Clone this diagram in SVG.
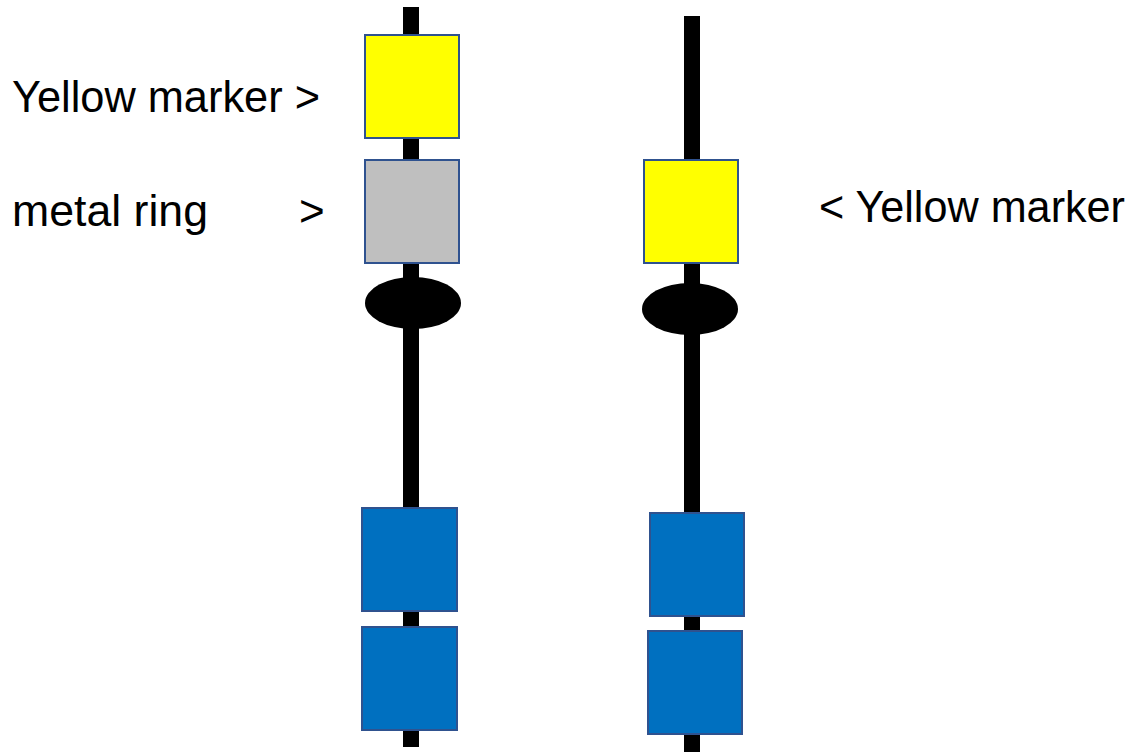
<svg xmlns="http://www.w3.org/2000/svg" width="1135" height="752" viewBox="0 0 1135 752">
<style>
.pole{stroke:#000;stroke-width:16;fill:none}
.box{stroke:#2F528F;stroke-width:2}
.y{fill:#FFFF00}
.g{fill:#BFBFBF}
.b{fill:#0070C0}
.knot{fill:#000}
text{font-family:"Liberation Sans",Arial,sans-serif;font-size:44px;fill:#000}
</style>
<rect width="1135" height="752" fill="#fff"/>
<g id="connectors">
<line class="pole" x1="411" y1="7" x2="411" y2="747"/>
<line class="pole" x1="692" y1="16" x2="692" y2="752"/>
</g>
<g id="left-yellow"><rect class="box y" x="365" y="35" width="94" height="103"/></g>
<g id="left-ring"><rect class="box g" x="365" y="160" width="94" height="103"/></g>
<g id="left-knot"><ellipse class="knot" cx="413" cy="303" rx="48" ry="26"/></g>
<g id="left-blue1"><rect class="box b" x="362" y="508" width="95" height="103"/></g>
<g id="left-blue2"><rect class="box b" x="362" y="627" width="95" height="103"/></g>
<g id="right-yellow"><rect class="box y" x="644" y="160" width="94" height="103"/></g>
<g id="right-knot"><ellipse class="knot" cx="690" cy="309" rx="48" ry="26"/></g>
<g id="right-blue1"><rect class="box b" x="650" y="513" width="94" height="103"/></g>
<g id="right-blue2"><rect class="box b" x="648" y="631" width="94" height="103"/></g>
<g id="labels">
<text x="12" y="112" textLength="308" lengthAdjust="spacingAndGlyphs">Yellow marker &gt;</text>
<text x="12" y="226" textLength="196" lengthAdjust="spacingAndGlyphs">metal ring</text>
<text x="299" y="226">&gt;</text>
<text x="819" y="222" textLength="306" lengthAdjust="spacingAndGlyphs">&lt; Yellow marker</text>
</g>
</svg>
